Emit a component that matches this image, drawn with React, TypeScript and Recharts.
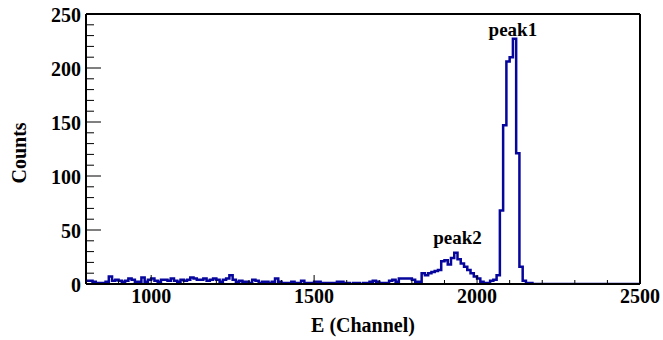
import React from 'react';
import { LineChart, Line, XAxis, YAxis, ReferenceLine, ReferenceDot } from 'recharts';

// Histogram binning: 10 channels per bin, starting at channel 800
const binLow = 800;
const binWidth = 10;

// Counts per bin, channels 800 .. 2490 (one row per 100 channels)
const counts = [
  3, 3, 2, 1, 1, 1, 2, 7, 3, 4, // 800
  3, 2, 3, 5, 4, 2, 2, 6, 2, 4, // 900
  5, 3, 2, 4, 4, 3, 5, 3, 2, 4, // 1000
  3, 4, 6, 5, 4, 4, 5, 3, 4, 5, // 1100
  4, 2, 4, 5, 8, 4, 2, 3, 2, 2, // 1200
  1, 4, 3, 1, 2, 2, 1, 2, 5, 2, // 1300
  1, 1, 1, 2, 1, 1, 3, 1, 1, 1, // 1400
  2, 2, 1, 1, 1, 1, 1, 2, 2, 1, // 1500
  1, 0, 1, 1, 0, 1, 1, 2, 3, 2, // 1600
  1, 1, 1, 3, 4, 2, 5, 5, 5, 5, // 1700
  4, 2, 2, 10, 8, 10, 11, 12, 13, 21, // 1800
  22, 18, 24, 29, 23, 19, 16, 13, 10, 7, // 1900
  5, 2, 1, 1, 3, 4, 8, 68, 147, 206, // 2000
  210, 227, 121, 16, 3, 1, 1, 0, 0, 0, // 2100
  0, 0, 0, 0, 0, 0, 0, 0, 0, 0, // 2200
  0, 0, 0, 0, 0, 0, 0, 0, 0, 0, // 2300
  0, 0, 0, 0, 0, 0, 0, 0, 0, 0, // 2400
];

const xMin = 800;
const xMax = 2500;
const yMin = 0;
const yMax = 250;

const xTicks = [
  800, 900, 1000, 1100, 1200, 1300, 1400, 1500, 1600, 1700, 1800, 1900,
  2000, 2100, 2200, 2300, 2400, 2500,
];
const xLabelled = [1000, 1500, 2000, 2500];

const yTicks = [
  0, 10, 20, 30, 40, 50, 60, 70, 80, 90, 100, 110, 120, 130, 140, 150, 160,
  170, 180, 190, 200, 210, 220, 230, 240, 250,
];
const yLabelled = [0, 50, 100, 150, 200, 250];

const peakLabels = [
  { name: 'peak1', e: 2110, c: 236 },
  { name: 'peak2', e: 1940, c: 43 },
];

// step points at each bin's lower edge, closed at the upper edge of the range
const data = counts
  .map((c, i) => ({ e: binLow + i * binWidth, counts: c }))
  .concat([{ e: xMax, counts: counts[counts.length - 1] }]);

const FONT = '"Liberation Serif", "Times New Roman", serif';
const LINE_COLOR = '#06069c';

const XTick = (props: any) => {
  const { x, y, payload } = props;
  const v = payload.value;
  const major = xLabelled.includes(v);
  return (
    <g>
      <line x1={x} x2={x} y1={y} y2={y - (major ? 9 : 4)} stroke="#000" strokeWidth={1} />
      {major && (
        <text
          x={x}
          y={y + 19}
          textAnchor="middle"
          fontFamily={FONT}
          fontWeight="bold"
          fontSize={20}
          fill="#000"
        >
          {v}
        </text>
      )}
    </g>
  );
};

const YTick = (props: any) => {
  const { x, y, payload } = props;
  const v = payload.value;
  const major = yLabelled.includes(v);
  return (
    <g>
      <line x1={x} x2={x + (major ? 15 : 8)} y1={y} y2={y} stroke="#000" strokeWidth={1} />
      {major && (
        <text
          x={x - 5}
          y={y + 8}
          textAnchor="end"
          fontFamily={FONT}
          fontWeight="bold"
          fontSize={20}
          fill="#000"
        >
          {v}
        </text>
      )}
    </g>
  );
};

const XTitle = (props: any) => {
  const vb = props.viewBox;
  return (
    <text
      x={vb.x + vb.width / 2}
      y={vb.y + 48}
      textAnchor="middle"
      fontFamily={FONT}
      fontWeight="bold"
      fontSize={20}
      fill="#000"
    >
      E (Channel)
    </text>
  );
};

const YTitle = (props: any) => {
  const vb = props.viewBox;
  const tx = vb.x + vb.width - 60;
  const ty = vb.y + vb.height / 2 + 4;
  return (
    <text
      x={tx}
      y={ty}
      transform={`rotate(-90 ${tx} ${ty})`}
      textAnchor="middle"
      fontFamily={FONT}
      fontWeight="bold"
      fontSize={20}
      fill="#000"
    >
      Counts
    </text>
  );
};

export default function App() {
  return (
    <div style={{ position: 'absolute', left: 0, top: 0, background: '#fff' }}>
      <LineChart
        width={663}
        height={340}
        data={data}
        margin={{ top: 14, right: 23, bottom: 0, left: 0 }}
      >
        <XAxis
          dataKey="e"
          type="number"
          domain={[xMin, xMax]}
          ticks={xTicks}
          interval={0}
          allowDataOverflow
          tick={XTick}
          tickLine={false}
          tickSize={0}
          tickMargin={0}
          height={56}
          axisLine={{ stroke: '#000', strokeWidth: 2 }}
          label={{ content: XTitle }}
        />
        <YAxis
          type="number"
          domain={[yMin, yMax]}
          ticks={yTicks}
          interval={0}
          allowDataOverflow
          tick={YTick}
          tickLine={false}
          tickSize={0}
          tickMargin={0}
          width={86}
          axisLine={{ stroke: '#000', strokeWidth: 2 }}
          label={{ content: YTitle }}
        />
        <ReferenceLine y={yMax} stroke="#000" strokeWidth={2} />
        <ReferenceLine x={xMax} stroke="#000" strokeWidth={2} />
        <Line
          dataKey="counts"
          type="stepAfter"
          stroke={LINE_COLOR}
          strokeWidth={2.5}
          dot={false}
          activeDot={false}
          isAnimationActive={false}
        />
        {peakLabels.map((p) => (
          <ReferenceDot
            key={p.name}
            x={p.e}
            y={p.c}
            r={0}
            fill="none"
            stroke="none"
            label={{
              value: p.name,
              position: 'center',
              fill: '#000',
              fontSize: 19,
              fontWeight: 'bold',
              fontFamily: FONT,
            }}
          />
        ))}
      </LineChart>
    </div>
  );
}
